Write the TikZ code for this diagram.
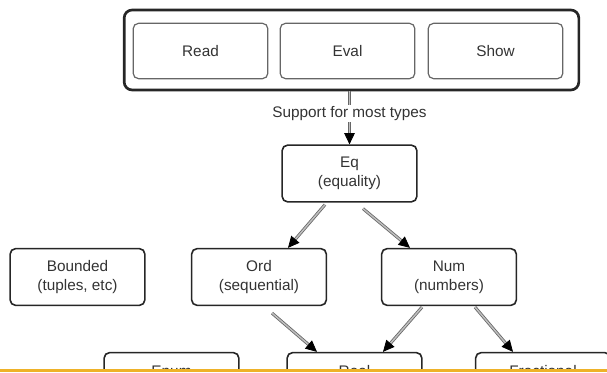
\documentclass[tikz,border=0pt]{standalone}
\usepackage{fontspec}
\setmainfont{Liberation Sans}
\usetikzlibrary{arrows.meta,calc}
\definecolor{cutline}{RGB}{238,178,40}
\begin{document}
\begin{tikzpicture}[x=0.75pt,y=-0.75pt,
        typebox/.style={draw=black!85,line width=1.2pt,rounded corners=4pt,minimum width=101pt,minimum height=42.5pt,align=center,text=black!80,font=\fontsize{11.5}{14.5}\selectfont},
        funcbox/.style={draw=black!60,line width=0.9pt,rounded corners=4pt,minimum width=101pt,minimum height=41.5pt,text=black!80,font=\fontsize{11.5}{14.5}\selectfont},
        inherit/.style={draw=black!60,double=black!25,double distance=1.1pt,line width=0.6pt,-{Triangle[length=8.5pt,width=8pt,color=black,fill=black]}}]
    \useasboundingbox (0,0) rectangle (607,373);
    \begin{scope}
        \clip (0,0) rectangle (607,370);
        %% Read, Eval and Show
        \node[draw=black!85,line width=2pt,rounded corners=6pt,minimum width=341pt,minimum height=60pt] (rep) at (351.5,50) {};
        \node[funcbox] (read) at (200.5,51) {Read};
        \node[funcbox] (eval) at (347.5,51) {Eval};
        \node[funcbox] (show) at (495.5,51) {Show};
        %% Type classes
        \node[typebox] (eq) at (349.5,173.5) {Eq\\(equality)};
        \node[typebox] (bounded) at (77.5,277) {Bounded\\(tuples, etc)};
        \node[typebox] (ord) at (259,277) {Ord\\(sequential)};
        \node[typebox] (num) at (449,277) {Num\\(numbers)};
        \node[typebox] (enum) at (171.5,381) {Enum\\~};
        \node[typebox] (real) at (354.5,381) {Real\\~};
        \node[typebox] (frac) at (543,381) {Fractional\\~};
        %% Arrows
        \draw[inherit] (eq.north |- rep.south) -- node[pos=0.42,fill=white,inner sep=1pt,text=black!80,font=\fontsize{11.5}{14}\selectfont] {Support for most types} (eq.north);
        \draw[inherit] ($(eq.south)+(-24.5,2)$) -- ($(ord.north)+(29,0)$);
        \draw[inherit] ($(eq.south)+(13.5,6)$) -- ($(num.north)+(-39,0)$);
        \draw[inherit] ($(ord.south)+(13,7)$) -- ($(real.north)+(-37.5,0)$);
        \draw[inherit] ($(num.south)+(-27,1)$) -- ($(real.north)+(28.5,0)$);
        \draw[inherit] ($(num.south)+(26,1)$) -- ($(frac.north)+(-30,0)$);
    \end{scope}
    %% Cut
    \draw[cutline,line width=1.6pt] (0,370.5) -- (607,370.5);
\end{tikzpicture}
\end{document}
